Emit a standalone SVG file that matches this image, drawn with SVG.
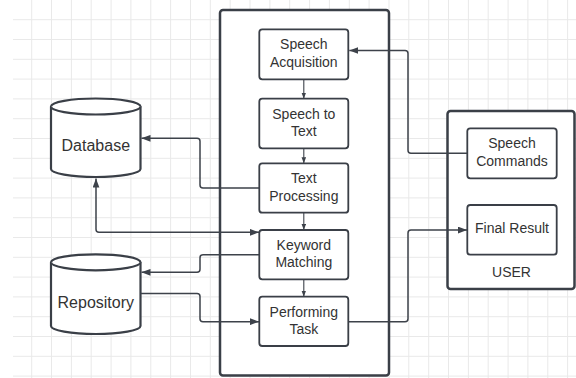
<svg xmlns="http://www.w3.org/2000/svg" width="576" height="378" viewBox="0 0 576 378">
<defs>
<style>
.grid{stroke:#e9e9e9;stroke-width:1;fill:none}
.cont{fill:#ffffff;stroke:#3a3f47;stroke-width:2.5}
.box{fill:#ffffff;stroke:#3a3f47;stroke-width:1.8}
.cyl{fill:#ffffff;stroke:#3a3f47;stroke-width:2.2}
.conn{fill:none;stroke:#3d424a;stroke-width:1.5}
.inner{fill:none;stroke:#3d424a;stroke-width:1.1}
text{font-family:"Liberation Sans",Arial,sans-serif;fill:#333333;text-anchor:middle}
.t14{font-size:14px}
.t16{font-size:16px}
</style>
<marker id="arr" viewBox="0 0 8 6" refX="8" refY="3" markerUnits="userSpaceOnUse" markerWidth="9" markerHeight="7" orient="auto-start-reverse">
<path d="M0,0 L8,3 L0,6 z" fill="#3d424a"/>
</marker>
<marker id="arrs" viewBox="0 0 8 6" refX="8" refY="3" markerUnits="userSpaceOnUse" markerWidth="6" markerHeight="5" orient="auto">
<path d="M0,0 L8,3 L0,6 z" fill="#3d424a"/>
</marker>
</defs>
<rect x="0" y="0" width="576" height="378" fill="#ffffff"/>
<path class="grid" d="M31.7,0V378M51.5,0V378M71.4,0V378M91.2,0V378M111.1,0V378M130.9,0V378M150.8,0V378M170.6,0V378M190.5,0V378M210.3,0V378M230.2,0V378M250,0V378M269.9,0V378M289.7,0V378M309.6,0V378M329.4,0V378M349.3,0V378M369.1,0V378M389,0V378M408.8,0V378M428.7,0V378M448.5,0V378M468.4,0V378M488.2,0V378M508.1,0V378M527.9,0V378M547.8,0V378M567.6,0V378M13,19.7H576M13,39.5H576M13,59.3H576M13,79.1H576M13,98.9H576M13,118.7H576M13,138.5H576M13,158.3H576M13,178.1H576M13,197.9H576M13,217.7H576M13,237.5H576M13,257.3H576M13,277.1H576M13,296.9H576M13,316.7H576M13,336.5H576M13,356.3H576M13,376.1H576"/>

<g id="system">
<rect class="cont" x="220" y="10" width="169" height="365.5" rx="3"/>
</g>
<g id="user">
<rect class="cont" x="447.5" y="111" width="127" height="178" rx="3"/>
<text class="t14" x="511.5" y="277.3">USER</text>
</g>

<g id="database">
<path class="cyl" d="M51,106.5 A44.75,8 0 0 1 140.5,106.5 V169 A44.75,8 0 0 1 51,169 Z"/>
<path class="cyl" fill="none" d="M51,106.5 A44.75,8 0 0 0 140.5,106.5"/>
<text class="t16" x="95.8" y="150.7">Database</text>
</g>
<g id="repository">
<path class="cyl" d="M51,262.3 A44.75,8 0 0 1 140.5,262.3 V326 A44.75,8 0 0 1 51,326 Z"/>
<path class="cyl" fill="none" d="M51,262.3 A44.75,8 0 0 0 140.5,262.3"/>
<text class="t16" x="95.8" y="307.5">Repository</text>
</g>

<g id="connectors">
<path class="conn" marker-end="url(#arr)" d="M467.3,153.3 H411 Q408,153.3 408,150.3 V53.5 Q408,50.5 405,50.5 H349.3"/>
<path class="conn" marker-end="url(#arr)" d="M259.3,188 H203 Q200,188 200,185 V141.3 Q200,138.3 197,138.3 H141.5"/>
<path class="conn" marker-start="url(#arr)" marker-end="url(#arr)" d="M96,178.5 V229.3 Q96,232.3 99,232.3 H259"/>
<path class="conn" marker-end="url(#arr)" d="M259.3,254.7 H203 Q200,254.7 200,257.7 V269.3 Q200,272.3 197,272.3 H141.5"/>
<path class="conn" marker-end="url(#arr)" d="M140.5,293.5 H197 Q200,293.5 200,296.5 V318.7 Q200,321.7 203,321.7 H259"/>
<path class="conn" marker-end="url(#arr)" d="M348.3,321.7 H405 Q408,321.7 408,318.7 V233 Q408,230 411,230 H467"/>
<path class="inner" marker-end="url(#arrs)" d="M303.8,79.3 V98.7"/>
<path class="inner" marker-end="url(#arrs)" d="M303.8,148.3 V163.3"/>
<path class="inner" marker-end="url(#arrs)" d="M303.8,212.7 V230"/>
<path class="inner" marker-end="url(#arrs)" d="M303.8,279.3 V296.7"/>
</g>

<g id="speech-acquisition">
<rect class="box" x="259.3" y="29.3" width="89" height="50" rx="3"/>
<text class="t14" x="303.8" y="49.3">Speech</text>
<text class="t14" x="303.8" y="66.6">Acquisition</text>
</g>
<g id="speech-to-text">
<rect class="box" x="259.3" y="98.7" width="89" height="49.6" rx="3"/>
<text class="t14" x="303.8" y="118.9">Speech to</text>
<text class="t14" x="303.8" y="136.1">Text</text>
</g>
<g id="text-processing">
<rect class="box" x="259.3" y="163.3" width="89" height="49.4" rx="3"/>
<text class="t14" x="303.8" y="183.3">Text</text>
<text class="t14" x="303.8" y="200.5">Processing</text>
</g>
<g id="keyword-matching">
<rect class="box" x="259.3" y="230" width="89" height="49.3" rx="3"/>
<text class="t14" x="303.8" y="250">Keyword</text>
<text class="t14" x="303.8" y="267.2">Matching</text>
</g>
<g id="performing-task">
<rect class="box" x="259.3" y="296.7" width="89" height="49.3" rx="3"/>
<text class="t14" x="303.8" y="316.7">Performing</text>
<text class="t14" x="303.8" y="333.9">Task</text>
</g>
<g id="speech-commands">
<rect class="box" x="467.3" y="128.3" width="89.4" height="50" rx="3"/>
<text class="t14" x="512" y="148.3">Speech</text>
<text class="t14" x="512" y="165.5">Commands</text>
</g>
<g id="final-result">
<rect class="box" x="467.3" y="205" width="89.4" height="49.7" rx="3"/>
<text class="t14" x="512" y="233.3">Final Result</text>
</g>
</svg>
